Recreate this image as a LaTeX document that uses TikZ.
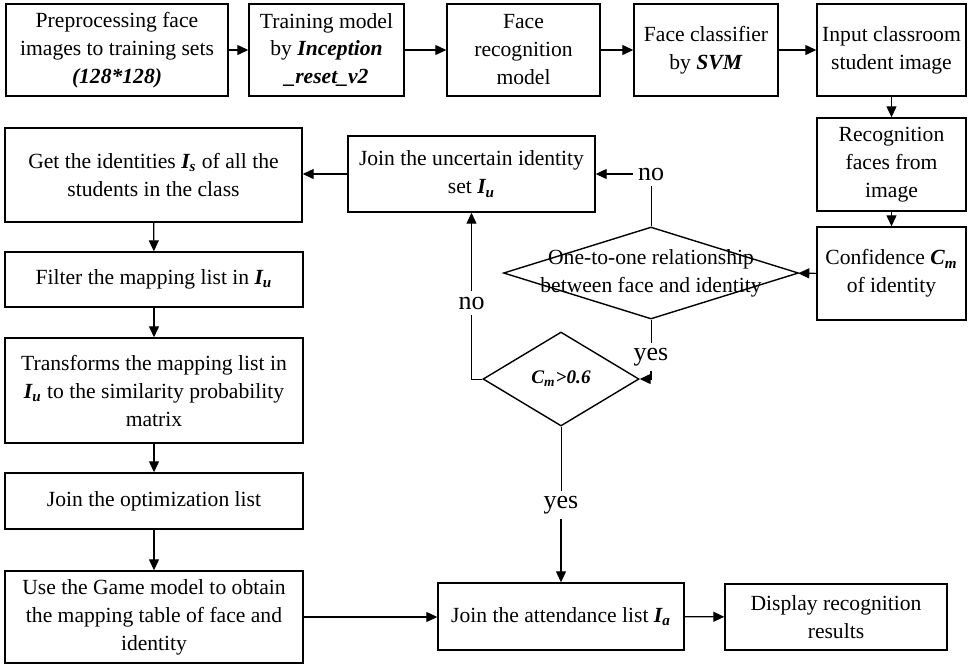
\documentclass[tikz,border=0pt]{standalone}
\usepackage{fontspec}
\setmainfont{Liberation Serif}
\usepackage{tikz}
\usetikzlibrary{shapes.geometric, arrows.meta}

\newcommand{\bi}[1]{\textbf{\textit{#1}}}

\begin{document}
\begin{tikzpicture}[x=0.5pt,y=-0.5pt,
	blk/.style={draw, line width=0.7pt, align=center, inner sep=0pt, font=\fontsize{10.8}{14}\selectfont},
	dia/.style={draw, diamond, line width=0.7pt, inner sep=0pt, align=center, font=\fontsize{10.8}{14}\selectfont},
	lbl/.style={inner sep=2.5pt, font=\fontsize{13}{15}\selectfont},
	arr/.style={-{Triangle[length=5.5pt,width=5pt]}, line width=0.6pt}]
\useasboundingbox (0,0) rectangle (969,666);
	\node[blk, minimum width=111pt, minimum height=46pt] (pre) at (117,50) {Preprocessing face\\images to training sets\\\bi{(128*128)}};
	\node[blk, minimum width=77.5pt, minimum height=46pt] (train) at (326.5,50) {Training model\\by \bi{Inception}\\\bi{\_reset\_v2}};
	\node[blk, minimum width=76.5pt, minimum height=46pt] (model) at (523.5,50) {Face\\recognition\\model};
	\node[blk, minimum width=72pt, minimum height=46pt] (svm) at (706,50) {Face classifier\\by \bi{SVM}};
	\node[blk, minimum width=74.5pt, minimum height=46pt] (input) at (891.5,50) {Input classroom\\student image};
	\node[blk, minimum width=74.5pt, minimum height=46.5pt] (recog) at (891.5,164.5) {Recognition\\faces from\\image};
	\node[blk, minimum width=74.5pt, minimum height=46.5pt] (conf) at (891.5,273.5) {Confidence \bi{C\textsubscript{m}}\\of identity};
	\node[dia, minimum width=147.5pt, minimum height=46pt] (one) at (651,273) {\makebox[0pt]{One-to-one relationship}\\\makebox[0pt]{between face and identity}};
	\node[blk, minimum width=123.5pt, minimum height=38pt] (unc) at (471.5,174) {Join the uncertain identity\\set \bi{I\textsubscript{u}}};
	\node[blk, minimum width=148.5pt, minimum height=47pt] (get) at (153.5,175) {Get the identities \bi{I\textsubscript{s}} of all the\\students in the class};
	\node[blk, minimum width=149pt, minimum height=27.5pt] (filter) at (154,279.5) {Filter the mapping list in \bi{I\textsubscript{u}}};
	\node[blk, minimum width=149pt, minimum height=52.5pt] (trans) at (154,390.5) {Transforms the mapping list in\\\bi{I\textsubscript{u}} to the similarity probability\\matrix};
	\node[blk, minimum width=149pt, minimum height=28pt] (opt) at (154,501) {Join the optimization list};
	\node[blk, minimum width=149pt, minimum height=46pt] (game) at (154,617) {Use the Game model to obtain\\the mapping table of face and\\identity};
	\node[dia, minimum width=78pt, minimum height=47pt, font=\fontsize{9.6}{11}\selectfont] (cm) at (561,379) {\bi{C\textsubscript{m}>0.6}};
	\node[blk, minimum width=123pt, minimum height=33.5pt] (att) at (561,616.5) {Join the attendance list \bi{I\textsubscript{a}}};
	\node[blk, minimum width=111pt, minimum height=33pt] (disp) at (836,617) {Display recognition\\results};
	% yes / no labels on the branches
	\node[lbl] (no1) at (651,174) {no};
	\node[lbl] (yes1) at (651,357) {yes};
	\node[lbl] (no2) at (471.5,303) {no};
	\node[lbl] (yes2) at (561,505) {yes};

	\draw[arr] (pre) -- (train);
	\draw[arr] (train) -- (model);
	\draw[arr] (model) -- (svm);
	\draw[arr] (svm) -- (input);
	\draw[arr] (input) -- (recog);
	\draw[arr] (recog) -- (conf);
	\draw[arr] (conf) -- (one);
	\draw (one.north) -- (no1);
	\draw[arr] (no1) -- (unc);
	\draw (one.south) -- (yes1);
	\draw[arr] (yes1) |- (cm.east);
	\draw (cm.west) -| (no2);
	\draw[arr] (no2) -- (unc.south);
	\draw (cm.south) -- (yes2);
	\draw[arr] (yes2) -- (att.north);
	\draw[arr] (unc.west) -- (get.east |- unc.west);
	\draw[arr] (get) -- (filter);
	\draw[arr] (filter) -- (trans);
	\draw[arr] (trans) -- (opt);
	\draw[arr] (opt) -- (game);
	\draw[arr] (game.east) -- (att.west |- game.east);
	\draw[arr] (att) -- (disp);
\end{tikzpicture}
\end{document}
